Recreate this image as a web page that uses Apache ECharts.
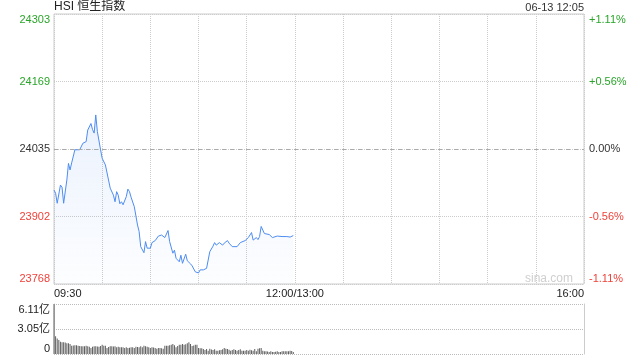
<!DOCTYPE html>
<html>
<head>
<meta charset="utf-8">
<title>HSI 恒生指数</title>
<script src="https://cdn.jsdelivr.net/npm/echarts@6/dist/echarts.min.js"></script>
<style>
  html, body { margin: 0; padding: 0; background: #fff; }
  #chart { width: 640px; height: 360px; }
</style>
</head>
<body>
<div id="chart"></div>
<script>
// 分时: minutes counted from 09:30 (lunch break skipped)
const lineMinutes = [0, 1, 2, 4, 5, 6, 8, 9, 10, 11, 13, 16, 17, 18, 20, 21, 22, 23, 24, 25,
  26, 27, 29, 30, 32, 35, 37, 38, 39, 40, 41, 42, 43, 45, 46, 47, 48, 49, 50, 52,
  53, 54, 56, 57, 58, 59, 60, 61, 63, 65, 66, 67, 69, 71, 72, 74, 75, 76, 78, 79,
  80, 82, 83, 85, 86, 88, 90, 91, 92, 93, 95, 96, 97, 99, 100, 101, 103, 105, 106, 108,
  109, 111, 112, 114, 116, 117, 119, 121, 123, 124, 126, 127, 128, 129, 131, 134, 136, 139, 140, 142,
  145, 147, 149]
const linePrices = [23954, 23948, 23928, 23964, 23960, 23928, 23974, 24007, 23994, 24008, 24034, 24034, 24031, 24047, 24050, 24073, 24076, 24086, 24074, 24067,
  24103, 24070, 24034, 24017, 24004, 23958, 23944, 23931, 23951, 23944, 23927, 23931, 23925, 23941, 23956, 23951, 23940, 23941, 23921, 23885,
  23872, 23842, 23830, 23852, 23839, 23841, 23839, 23850, 23854, 23863, 23860, 23865, 23860, 23874, 23852, 23829, 23835, 23819, 23812, 23825,
  23809, 23827, 23814, 23808, 23804, 23792, 23790, 23796, 23799, 23796, 23799, 23796, 23832, 23843, 23850, 23845, 23850, 23845, 23849, 23854,
  23849, 23842, 23845, 23842, 23850, 23847, 23854, 23860, 23870, 23855, 23860, 23856, 23862, 23882, 23868, 23866, 23860, 23863, 23860, 23862,
  23862, 23861, 23864]

// 成交额 (亿), one bar per minute from 09:30
const volumes = [6.11, 2.16, 1.9, 1.71, 1.51, 1.43, 1.43, 1.4, 1.31, 1.31,
  1.22, 1.02, 1.05, 1.06, 1.06, 1.02, 0.98, 0.96, 0.94, 0.94,
  1.02, 0.94, 0.9, 0.73, 0.9, 0.94, 0.94, 0.92, 0.9, 0.98,
  1.14, 1.02, 1.0, 0.73, 0.86, 0.94, 0.94, 0.92, 0.94, 0.82,
  0.9, 0.82, 0.84, 0.82, 0.73, 0.82, 0.73, 0.76, 0.82, 0.82,
  0.73, 0.9, 0.86, 0.82, 0.94, 0.82, 1.02, 0.96, 0.9, 0.82,
  0.73, 0.82, 0.78, 0.73, 0.65, 0.73, 0.73, 0.7, 0.65, 1.02,
  1.02, 1.02, 1.06, 1.14, 1.22, 1.06, 0.82, 0.98, 1.14, 1.14,
  1.22, 1.14, 1.2, 1.31, 1.43, 1.22, 0.98, 1.05, 1.14, 1.14,
  0.73, 0.69, 0.69, 0.6, 0.49, 0.61, 0.41, 0.65, 0.55, 0.49,
  0.57, 0.41, 0.41, 0.45, 0.49, 0.57, 0.73, 0.65, 0.6, 0.53,
  0.41, 0.49, 0.57, 0.5, 0.41, 0.49, 0.57, 0.41, 0.41, 0.41,
  0.49, 0.41, 0.53, 0.47, 0.41, 0.61, 0.33, 0.65, 0.7, 0.73,
  0.41, 0.33, 0.33, 0.3, 0.24, 0.33, 0.24, 0.24, 0.28, 0.33,
  0.24, 0.24, 0.33, 0.33, 0.33, 0.33, 0.33, 0.41, 0.37, 0.24]

// axis ticks
const priceTicks = ['23768', '23902', '24035', '24169', '24303']
const pctTicks = ['-1.11%', '-0.56%', '0.00%', '+0.56%', '+1.11%']
const volTicks = ['0', '3.05亿', '6.11亿']
const timeTicks = [0, 150, 330]
const timeLabels = ['09:30', '12:00/13:00', '16:00']

const priceMin = 23768
const priceMax = 24303
const volMax = 6.11
const totalMinutes = 330

const mid = (priceMin + priceMax) / 2
const step = (priceMax - priceMin) / 4
const FONT = 'Arial, "Liberation Sans", "Noto Sans CJK SC", sans-serif'

const tickIndex = (v) => Math.round(Number(v) / step) + 2
const tickColor = (i) => (i < 2 ? '#f0413a' : i === 2 ? '#333' : '#2aa52a')

const chart = echarts.init(document.getElementById('chart'))

chart.setOption({
  animation: false,
  title: [
    {
      text: 'HSI 恒生指数',
      left: 54,
      top: 1,
      padding: 0,
      textStyle: { fontSize: 12, fontWeight: 'normal', color: '#222', fontFamily: FONT }
    },
    {
      text: '06-13 12:05',
      right: 56,
      top: 2,
      padding: 0,
      textStyle: { fontSize: 11, fontWeight: 'normal', color: '#333', fontFamily: FONT }
    }
  ],
  graphic: [
    {
      type: 'text',
      right: 67,
      top: 273,
      silent: true,
      style: { text: 'sina.com', fill: '#cfcfcf', font: '12px ' + FONT }
    }
  ],
  grid: [
    { left: 54, right: 56, top: 14, height: 270, show: true, borderColor: '#ccc', borderWidth: 1, outerBoundsMode: 'none' },
    { left: 54, right: 56, top: 304, height: 50, outerBoundsMode: 'none' }
  ],
  xAxis: [
    {
      gridIndex: 0,
      type: 'value',
      min: 0,
      max: totalMinutes,
      interval: 30,
      axisLine: { show: false },
      axisTick: { show: false },
      splitLine: { show: true, lineStyle: { color: '#ccc', type: [1, 1] } },
      axisLabel: {
        margin: 4,
        fontSize: 11,
        color: '#222',
        fontFamily: FONT,
        alignMinLabel: 'left',
        alignMaxLabel: 'right',
        formatter: (v) => {
          const i = timeTicks.indexOf(v)
          return i < 0 ? '' : timeLabels[i]
        }
      }
    },
    {
      gridIndex: 1,
      type: 'value',
      min: 0,
      max: totalMinutes,
      show: false
    }
  ],
  yAxis: [
    {
      gridIndex: 0,
      type: 'value',
      min: -2 * step,
      max: 2 * step,
      interval: step,
      axisLine: { show: false },
      axisTick: { show: false },
      splitLine: { show: true, lineStyle: { color: '#ccc', type: [1, 1] } },
      axisLabel: {
        margin: 4,
        fontSize: 11,
        fontFamily: FONT,
        verticalAlignMinLabel: 'bottom',
        verticalAlignMaxLabel: 'top',
        color: (v) => tickColor(tickIndex(v)),
        formatter: (v) => priceTicks[tickIndex(v)]
      }
    },
    {
      gridIndex: 0,
      type: 'value',
      position: 'right',
      min: -2 * step,
      max: 2 * step,
      interval: step,
      axisLine: { show: false },
      axisTick: { show: false },
      splitLine: { show: false },
      axisLabel: {
        margin: 5,
        fontSize: 11,
        fontFamily: FONT,
        verticalAlignMinLabel: 'bottom',
        verticalAlignMaxLabel: 'top',
        color: (v) => tickColor(tickIndex(v)),
        formatter: (v) => pctTicks[tickIndex(v)]
      }
    },
    {
      gridIndex: 1,
      type: 'value',
      min: 0,
      max: volMax,
      interval: volMax / 2,
      axisLine: { show: true, lineStyle: { color: '#ccc' } },
      axisTick: { show: false },
      splitLine: { show: true, lineStyle: { color: '#bbb', type: [1, 1] } },
      axisLabel: {
        margin: 4,
        fontSize: 11,
        color: '#222',
        fontFamily: FONT,
        verticalAlignMinLabel: 'bottom',
        verticalAlignMaxLabel: 'top',
        formatter: (v) => volTicks[Math.round(Number(v) / (volMax / 2))]
      }
    },
    {
      gridIndex: 1,
      type: 'value',
      position: 'right',
      min: 0,
      max: volMax,
      axisLine: { show: true, lineStyle: { color: '#ccc' } },
      axisTick: { show: false },
      axisLabel: { show: false },
      splitLine: { show: false }
    }
  ],
  series: [
    {
      name: 'HSI',
      type: 'line',
      xAxisIndex: 0,
      yAxisIndex: 0,
      data: lineMinutes.map((m, i) => [m, linePrices[i] - mid]),
      showSymbol: false,
      silent: true,
      lineStyle: { color: '#4d8cf0', width: 1 },
      areaStyle: {
        origin: 'start',
        color: new echarts.graphic.LinearGradient(0, 0, 0, 1, [
          { offset: 0, color: 'rgba(77,140,240,0.16)' },
          { offset: 1, color: 'rgba(77,140,240,0.02)' }
        ])
      },
      markLine: {
        silent: true,
        symbol: 'none',
        label: { show: false },
        lineStyle: { color: '#aaa', type: [4, 4], width: 1 },
        data: [{ yAxis: 0 }]
      }
    },
    {
      name: '成交额',
      type: 'bar',
      xAxisIndex: 1,
      yAxisIndex: 2,
      data: volumes.map((v, i) => [i, v]),
      barWidth: 1,
      silent: true,
      itemStyle: { color: '#5f5f5f' }
    }
  ]
})
</script>
</body>
</html>
